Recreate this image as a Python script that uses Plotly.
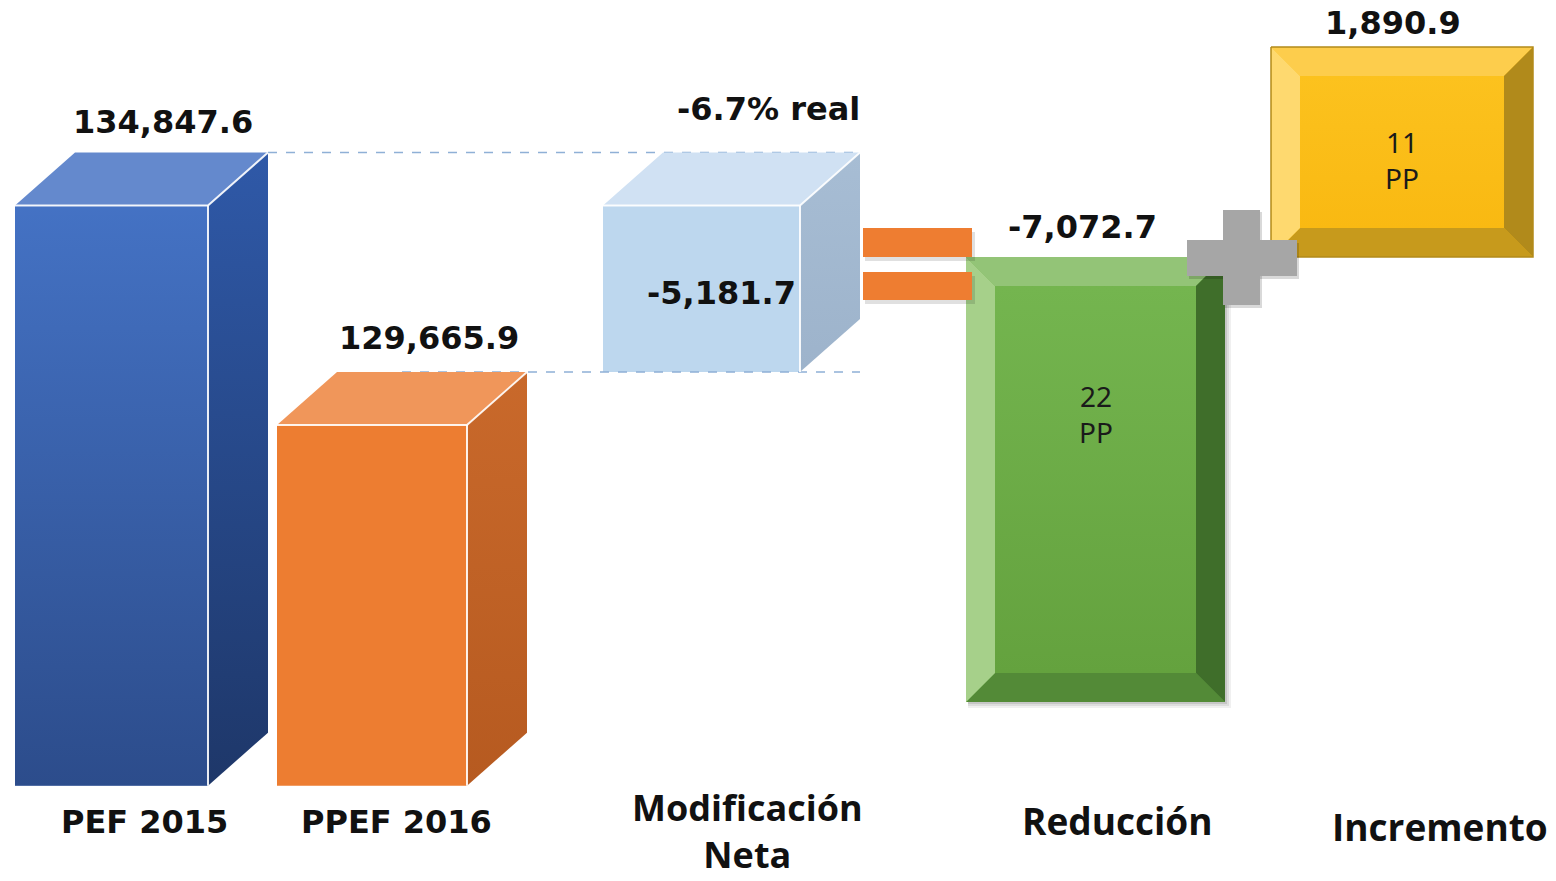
import plotly.graph_objects as go

# ---------------- data ----------------
categories = ["PEF 2015", "PPEF 2016", "Modificación<br>Neta", "Reducción", "Incremento"]
pef_2015 = 134847.6
ppef_2016 = 129665.9
modificacion_neta = -5181.7
variacion_real_pct = -6.7
reduccion = -7072.7
incremento = 1890.9
pp_reduccion = 22
pp_incremento = 11

# ---------------- layout constants ----------------
W, H = 1556, 881
X_CENTER = [111.5, 372, 701.5, 1095.5, 1402]
BAR_W = [193, 190, 197, 259, 262]
DX, DY = 60, 53          # oblique depth of the 3-D boxes (px)
BEVEL = 29               # bevel width of the flat boxes (px)
Y_MAIN = [118900, 139700]
FLOOR = 121150           # visible floor of the budget columns
Y_RED = [-9918, 4085]
Y_INC = [-5619, 2314]

u_main = (Y_MAIN[1] - Y_MAIN[0]) / H
u_red = (Y_RED[1] - Y_RED[0]) / H
u_inc = (Y_INC[1] - Y_INC[0]) / H

BOLD = dict(family="DejaVu Sans", size=32, color="#111111", weight="bold")
CAT = dict(family="Open Sans", size=37, color="#111111", weight="bold")
REG = dict(family="Noto Sans", size=28, color="#1a1a1a")

fig = go.Figure()


def poly(xs, ys, color=None, yaxis="y", grad=None, gtype="vertical"):
    kw = dict(x=list(xs) + [xs[0]], y=list(ys) + [ys[0]], mode="lines", fill="toself",
              line=dict(width=0), hoverinfo="skip", showlegend=False, yaxis=yaxis)
    if grad:
        kw["fillgradient"] = dict(type=gtype, colorscale=grad)
    else:
        kw["fillcolor"] = color
    fig.add_trace(go.Scatter(**kw))


def box3d(i, lo, hi, front, top, side_grad, shade=None):
    xc, w = X_CENTER[i], BAR_W[i]
    x0, x1 = xc - w / 2, xc + w / 2
    d = DY * u_main
    fig.add_trace(go.Bar(x=[xc], y=[hi - lo], base=[lo], width=[w],
                         marker=dict(color=front, line=dict(width=0)),
                         hoverinfo="skip", showlegend=False))
    if shade:
        poly([x0, x1, x1, x0], [lo, lo, hi, hi], grad=shade)
    poly([x0, x0 + DX, x1 + DX, x1], [hi, hi + d, hi + d, hi], color=top)
    poly([x1, x1 + DX, x1 + DX, x1], [hi, hi + d, lo + d, lo], grad=side_grad)
    fig.add_trace(go.Scatter(x=[x0, x1, x1 + DX, None, x1, x1],
                             y=[hi, hi, hi + d, None, hi, lo],
                             mode="lines", line=dict(color="rgba(255,255,255,0.9)", width=2),
                             hoverinfo="skip", showlegend=False))


def bevel_box(i, value, yaxis, upx, center, top, left, right, bottom, outline=None):
    xc, w = X_CENTER[i], BAR_W[i]
    x0, x1 = xc - w / 2, xc + w / 2
    yt, yb = max(0, value), min(0, value)
    b = BEVEL * upx
    fig.add_trace(go.Bar(x=[xc], y=[value], base=[0], width=[w], yaxis=yaxis,
                         marker=dict(color=center[0], line=dict(width=0)),
                         hoverinfo="skip", showlegend=False))
    poly([x0 + BEVEL, x1 - BEVEL, x1 - BEVEL, x0 + BEVEL], [yb + b, yb + b, yt - b, yt - b],
         yaxis=yaxis, grad=[[0, center[1]], [1, center[2]]])
    poly([x0, x1, x1 - BEVEL, x0 + BEVEL], [yt, yt, yt - b, yt - b], color=top, yaxis=yaxis)
    poly([x0, x1, x1 - BEVEL, x0 + BEVEL], [yb, yb, yb + b, yb + b], color=bottom, yaxis=yaxis)
    poly([x0, x0 + BEVEL, x0 + BEVEL, x0], [yt, yt - b, yb + b, yb], color=left, yaxis=yaxis)
    poly([x1, x1 - BEVEL, x1 - BEVEL, x1], [yt, yt - b, yb + b, yb], color=right, yaxis=yaxis)
    if outline:
        fig.add_trace(go.Scatter(x=[x0, x1, x1, x0, x0], y=[yt, yt, yb, yb, yt], mode="lines",
                                 line=dict(color=outline, width=1.5), yaxis=yaxis,
                                 hoverinfo="skip", showlegend=False))


d_main = DY * u_main

# connector lines between the two budget levels
x_mod_back = X_CENTER[2] + BAR_W[2] / 2 + DX
fig.add_trace(go.Scatter(x=[X_CENTER[0] + BAR_W[0] / 2 + DX, x_mod_back],
                         y=[pef_2015 + d_main] * 2, mode="lines",
                         line=dict(color="#8fb0d6", width=1.5, dash="dash"),
                         hoverinfo="skip", showlegend=False))
fig.add_trace(go.Scatter(x=[X_CENTER[1] + 30, x_mod_back],
                         y=[ppef_2016 + d_main] * 2, mode="lines",
                         line=dict(color="#8fb0d6", width=1.5, dash="dash"),
                         hoverinfo="skip", showlegend=False))

# budget columns
box3d(0, FLOOR, pef_2015, "#4472c4", "#6489cd",
      [[0, "#1e3769"], [1, "#2f59a8"]],
      shade=[[0, "rgba(15,30,70,0.45)"], [1, "rgba(15,30,70,0)"]])
box3d(1, FLOOR, ppef_2016, "#ed7d31", "#f0965a",
      [[0, "#b65a20"], [1, "#c9692b"]])
# net change box spans the gap between both levels (front bottom to back top)
box3d(2, pef_2015 + modificacion_neta + d_main, pef_2015, "#bdd7ee", "#d0e1f3",
      [[0, "#9db3cb"], [1, "#a7bdd4"]])

# reduction / increment boxes
bevel_box(3, reduccion, "y2", u_red, ("#6aad46", "#64a23e", "#74b54f"),
          "#93c477", "#a6d08a", "#3f6e2a", "#538a37")
bevel_box(4, incremento, "y3", u_inc, ("#fbbd16", "#f9b912", "#fcc21e"),
          "#fdcd4c", "#fed96f", "#b18a1b", "#c79a1c", outline="#b38b1a")


def py(p):
    return 1 - p / H


shapes = []
# soft shadow under the reduction box
x0g, x1g = X_CENTER[3] - BAR_W[3] / 2, X_CENTER[3] + BAR_W[3] / 2
for k, a in [(6, 0.06), (4, 0.08), (2, 0.10)]:
    shapes.append(dict(type="rect", xref="x", yref="y2", x0=x0g + 2, x1=x1g + k,
                       y0=reduccion - k * u_red, y1=-20 * u_red,
                       fillcolor=f"rgba(0,0,0,{a})", line=dict(width=0), layer="below"))
# equals sign
for (ya, yb) in [(228, 257), (272, 300)]:
    shapes.append(dict(type="rect", xref="x", yref="paper", x0=865, x1=975, y0=py(yb + 4), y1=py(ya + 4),
                       fillcolor="rgba(0,0,0,0.12)", line=dict(width=0), layer="above"))
    shapes.append(dict(type="rect", xref="x", yref="paper", x0=863, x1=972, y0=py(yb), y1=py(ya),
                       fillcolor="#ee7d31", line=dict(width=0), layer="above"))
# plus sign
for (xa, xb, ya, yb, c) in [(1189, 1299, 243, 279, "rgba(0,0,0,0.15)"), (1225, 1262, 212, 308, "rgba(0,0,0,0.15)"),
                            (1187, 1297, 240, 276, "#a6a6a6"), (1223, 1260, 210, 305, "#a6a6a6")]:
    shapes.append(dict(type="rect", xref="x", yref="paper", x0=xa, x1=xb, y0=py(yb), y1=py(ya),
                       fillcolor=c, line=dict(width=0), layer="above"))

ann = []


def label(text, x, y, yref, font, xshift=0, yshift=0):
    ann.append(dict(text=text, x=x, y=y, xref="x", yref=yref, showarrow=False, font=font,
                    xanchor="center", yanchor="middle", xshift=xshift, yshift=yshift))


label(f"{pef_2015:,.1f}", X_CENTER[0] + 51, pef_2015 + d_main, "y", BOLD, yshift=31)
label(f"{ppef_2016:,.1f}", X_CENTER[1] + 57, ppef_2016 + d_main, "y", BOLD, yshift=34)
label(f"{variacion_real_pct:.1f}% real", X_CENTER[2] + 67, pef_2015 + d_main, "y", BOLD, yshift=44)
label(f"{modificacion_neta:,.1f}", X_CENTER[2] + 20,
      (pef_2015 + pef_2015 + modificacion_neta + d_main) / 2, "y", BOLD, yshift=-4)
label(f"{reduccion:,.1f}", X_CENTER[3] - 13, 0, "y2", BOLD, yshift=30)
label(f"{incremento:,.1f}", X_CENTER[4] - 9, incremento, "y3", BOLD, yshift=24)
label(f"{pp_reduccion}<br>PP", X_CENTER[3], 0, "y2", REG, yshift=-157)
label(f"{pp_incremento}<br>PP", X_CENTER[4], incremento, "y3", REG, yshift=-113)

# category captions
cat_x = [144, 396, 747, 1117, 1440]
cat_y = [822, 822, None, 820, 826]
for k, name in enumerate(categories):
    if cat_y[k] is None:
        # two-line caption sits on the bottom edge of the figure
        ann.append(dict(text=name, x=cat_x[k], y=0, xref="x", yref="paper", showarrow=False,
                        font=dict(CAT, size=36), xanchor="center", yanchor="bottom"))
        continue
    f = BOLD if k < 2 else CAT
    ann.append(dict(text=name, x=cat_x[k], y=py(cat_y[k]), xref="x", yref="paper", showarrow=False,
                    font=f, xanchor="center", yanchor="middle"))

fig.update_layout(
    width=W, height=H, margin=dict(l=0, r=0, t=0, b=0),
    paper_bgcolor="white", plot_bgcolor="white", showlegend=False, barmode="overlay",
    xaxis=dict(range=[0, W], visible=False, fixedrange=True),
    yaxis=dict(range=Y_MAIN, visible=False, fixedrange=True),
    yaxis2=dict(range=Y_RED, visible=False, overlaying="y", fixedrange=True),
    yaxis3=dict(range=Y_INC, visible=False, overlaying="y", fixedrange=True),
    shapes=shapes, annotations=ann,
)

fig.write_html("out.html")
